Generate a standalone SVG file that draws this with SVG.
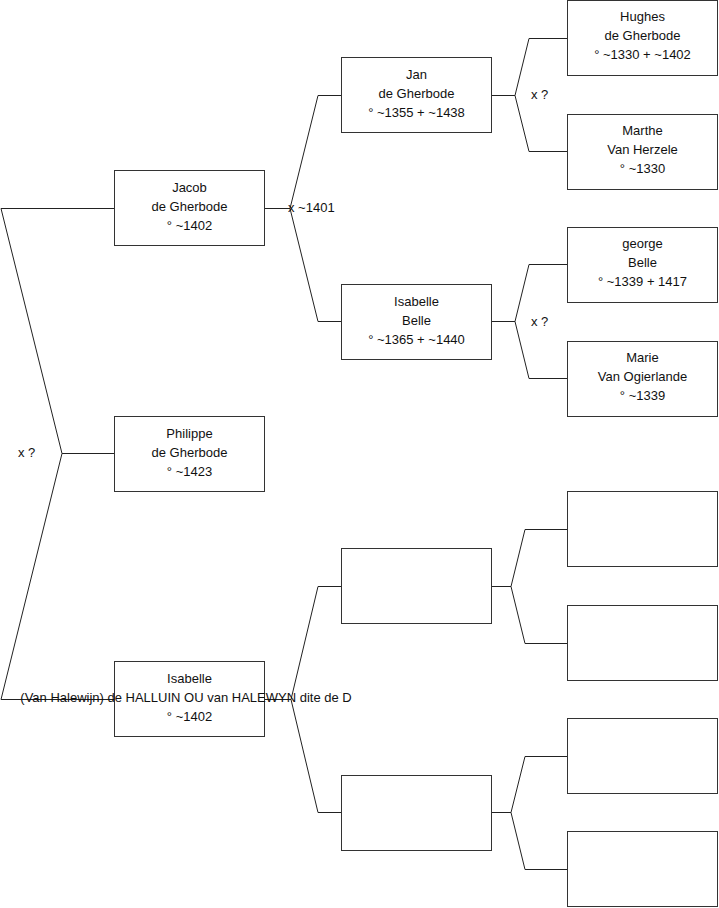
<svg xmlns="http://www.w3.org/2000/svg" width="719" height="908" viewBox="0 0 719 908">
<style>
.c{fill:none;stroke:#222;stroke-width:1}
.b{fill:#fff;stroke:#333;stroke-width:1}
text{font-family:"Liberation Sans",Arial,sans-serif;font-size:13px;fill:#111}
.m{text-anchor:middle}
</style>
<rect width="719" height="908" fill="#fff"/>
<g id="connectors">
<polyline class="c" points="114,208.5 1,208.5 62,453.5 1,699.5 114,699.5"/>
<polyline class="c" points="62,453.5 114,453.5"/>
<polyline class="c" points="265,208.5 290,208.5"/>
<polyline class="c" points="341,95.5 318,95.5 290,208.5 318,321.5 341,321.5"/>
<polyline class="c" points="492,95.5 515,95.5"/>
<polyline class="c" points="567,38.5 529,38.5 515,95.5 529,151.5 567,151.5"/>
<polyline class="c" points="492,321.5 515,321.5"/>
<polyline class="c" points="567,264.5 529,264.5 515,321.5 529,378.5 567,378.5"/>
<polyline class="c" points="265,699.5 291,699.5"/>
<polyline class="c" points="341,586.5 318,586.5 291,699.5 318,812.5 341,812.5"/>
<polyline class="c" points="492,586.5 511,586.5"/>
<polyline class="c" points="567,529.5 525,529.5 511,586.5 525,643.5 567,643.5"/>
<polyline class="c" points="492,812.5 511,812.5"/>
<polyline class="c" points="567,756.5 525,756.5 511,812.5 525,869.5 567,869.5"/>
<text x="18" y="457">x ?</text>
<text x="288" y="212">x ~1401</text>
<text x="531" y="99">x ?</text>
<text x="531" y="326">x ?</text>
</g>
<g id="jacob"><rect class="b" x="114.5" y="170.5" width="150" height="75"/>
<text class="m" x="189.5" y="192">Jacob</text><text class="m" x="189.5" y="211">de Gherbode</text><text class="m" x="189.5" y="230">° ~1402</text></g>
<g id="philippe"><rect class="b" x="114.5" y="416.5" width="150" height="75"/>
<text class="m" x="189.5" y="438">Philippe</text><text class="m" x="189.5" y="457">de Gherbode</text><text class="m" x="189.5" y="476">° ~1423</text></g>
<g id="isabelle-halluin"><rect class="b" x="114.5" y="661.5" width="150" height="75"/>
<text class="m" x="189.5" y="683">Isabelle</text><text class="m" x="186" y="702">(Van Halewijn) de HALLUIN OU van HALEWYN dite de D</text><text class="m" x="189.5" y="721">° ~1402</text></g>
<g id="jan"><rect class="b" x="341.5" y="57.5" width="150" height="75"/>
<text class="m" x="416.5" y="79">Jan</text><text class="m" x="416.5" y="98">de Gherbode</text><text class="m" x="416.5" y="117">° ~1355 + ~1438</text></g>
<g id="isabelle-belle"><rect class="b" x="341.5" y="284.5" width="150" height="75"/>
<text class="m" x="416.5" y="306">Isabelle</text><text class="m" x="416.5" y="325">Belle</text><text class="m" x="416.5" y="344">° ~1365 + ~1440</text></g>
<g id="blank-c2-1"><rect class="b" x="341.5" y="548.5" width="150" height="75"/></g>
<g id="blank-c2-2"><rect class="b" x="341.5" y="775.5" width="150" height="75"/></g>
<g id="hughes"><rect class="b" x="567.5" y="0.5" width="150" height="75"/>
<text class="m" x="642.5" y="21">Hughes</text><text class="m" x="642.5" y="40">de Gherbode</text><text class="m" x="642.5" y="59">° ~1330 + ~1402</text></g>
<g id="marthe"><rect class="b" x="567.5" y="114.5" width="150" height="75"/>
<text class="m" x="642.5" y="135">Marthe</text><text class="m" x="642.5" y="154">Van Herzele</text><text class="m" x="642.5" y="173">° ~1330</text></g>
<g id="george"><rect class="b" x="567.5" y="227.5" width="150" height="75"/>
<text class="m" x="642.5" y="248">george</text><text class="m" x="642.5" y="267">Belle</text><text class="m" x="642.5" y="286">° ~1339 + 1417</text></g>
<g id="marie"><rect class="b" x="567.5" y="341.5" width="150" height="75"/>
<text class="m" x="642.5" y="362">Marie</text><text class="m" x="642.5" y="381">Van Ogierlande</text><text class="m" x="642.5" y="400">° ~1339</text></g>
<g id="blank-c3-1"><rect class="b" x="567.5" y="491.5" width="150" height="75"/></g>
<g id="blank-c3-2"><rect class="b" x="567.5" y="605.5" width="150" height="75"/></g>
<g id="blank-c3-3"><rect class="b" x="567.5" y="718.5" width="150" height="75"/></g>
<g id="blank-c3-4"><rect class="b" x="567.5" y="831.5" width="150" height="75"/></g>
</svg>
